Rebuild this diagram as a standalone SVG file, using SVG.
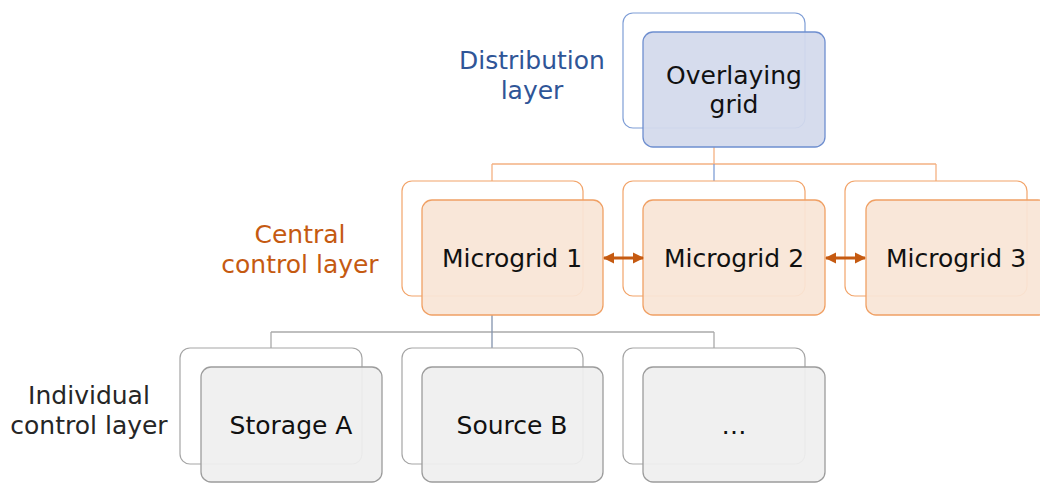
<svg xmlns="http://www.w3.org/2000/svg" width="1040" height="483" viewBox="0 0 1040 483">
  <defs>
    <style>
      text { font-family: "DejaVu Sans", Verdana, sans-serif; font-size: 25px; text-anchor: middle; }
      .nt { fill: #111111; }
      .back-b { fill: #ffffff; stroke: #7F9ED6; stroke-width: 1.2; }
      .front-b { fill: #D3D9EC; fill-opacity: 0.93; stroke: #6E8ECF; stroke-width: 1.3; }
      .back-o { fill: #ffffff; stroke: #F2A46A; stroke-width: 1.2; }
      .front-o { fill: #F9E5D6; fill-opacity: 0.93; stroke: #F0A064; stroke-width: 1.3; }
      .back-g { fill: #ffffff; stroke: #A5A5A5; stroke-width: 1.2; }
      .front-g { fill: #EFEFEF; fill-opacity: 0.93; stroke: #9C9C9C; stroke-width: 1.3; }
      .c-o { stroke: #F4B183; stroke-width: 1.3; fill: none; }
      .c-b { stroke: #7F9ED6; stroke-width: 1.3; fill: none; }
      .c-g { stroke: #AAAAAA; stroke-width: 1.3; fill: none; }
      .c-bg { stroke: #8393AD; stroke-width: 1.3; fill: none; }
      .arrow { stroke: #C55A11; stroke-width: 3.2; fill: none; marker-start: url(#ah); marker-end: url(#ah); }
    </style>
    <marker id="ah" viewBox="0 0 10 10" refX="9" refY="5" markerWidth="3.6" markerHeight="3.6" orient="auto-start-reverse" markerUnits="strokeWidth">
      <path d="M0,0 L10,5 L0,10 z" fill="#C55A11"/>
    </marker>
  </defs>

  <g id="labels">
    <text x="532" y="69" fill="#2F5597">Distribution</text>
    <text x="532" y="99" fill="#2F5597">layer</text>
    <text x="300" y="243" fill="#C55A11">Central</text>
    <text x="300" y="273" fill="#C55A11">control layer</text>
    <text x="89" y="404" fill="#262626">Individual</text>
    <text x="89" y="434" fill="#262626">control layer</text>
  </g>

  <g id="connectors">
    <path class="c-o" d="M714,147 V164 M492,164 H936 M492,164 V181 M936,164 V181"/>
    <path class="c-b" d="M714,164 V181"/>
    <path class="c-g" d="M271,332 H714 M271,332 V348 M714,332 V348"/>
    <path class="c-bg" d="M492,315 V348"/>
  </g>

  <g id="overlaying-grid">
    <rect class="back-b" x="623" y="13" width="182" height="115" rx="10"/>
    <rect class="front-b" x="643" y="32" width="182" height="115" rx="10"/>
    <text class="nt" x="734" y="84">Overlaying</text>
    <text class="nt" x="734" y="113">grid</text>
  </g>

  <g id="microgrid-1">
    <rect class="back-o" x="402" y="181" width="181" height="115" rx="10"/>
    <rect class="front-o" x="422" y="200" width="181" height="115" rx="10"/>
    <text class="nt" x="512" y="267">Microgrid 1</text>
  </g>

  <g id="microgrid-2">
    <rect class="back-o" x="623" y="181" width="182" height="115" rx="10"/>
    <rect class="front-o" x="643" y="200" width="182" height="115" rx="10"/>
    <text class="nt" x="734" y="267">Microgrid 2</text>
  </g>

  <g id="microgrid-3">
    <rect class="back-o" x="845" y="181" width="182" height="115" rx="10"/>
    <rect class="front-o" x="866" y="200" width="182" height="115" rx="10"/>
    <text class="nt" x="956" y="267">Microgrid 3</text>
  </g>

  <g id="storage-a">
    <rect class="back-g" x="180" y="348" width="182" height="116" rx="10"/>
    <rect class="front-g" x="201" y="367" width="181" height="115" rx="10"/>
    <text class="nt" x="291" y="434">Storage A</text>
  </g>

  <g id="source-b">
    <rect class="back-g" x="402" y="348" width="181" height="116" rx="10"/>
    <rect class="front-g" x="422" y="367" width="181" height="115" rx="10"/>
    <text class="nt" x="512" y="434">Source B</text>
  </g>

  <g id="more">
    <rect class="back-g" x="623" y="348" width="182" height="116" rx="10"/>
    <rect class="front-g" x="643" y="367" width="182" height="115" rx="10"/>
    <text class="nt" x="734" y="434">…</text>
  </g>

  <g id="links">
    <line class="arrow" x1="604" y1="258" x2="643" y2="258"/>
    <line class="arrow" x1="826" y1="258" x2="865" y2="258"/>
  </g>
</svg>
